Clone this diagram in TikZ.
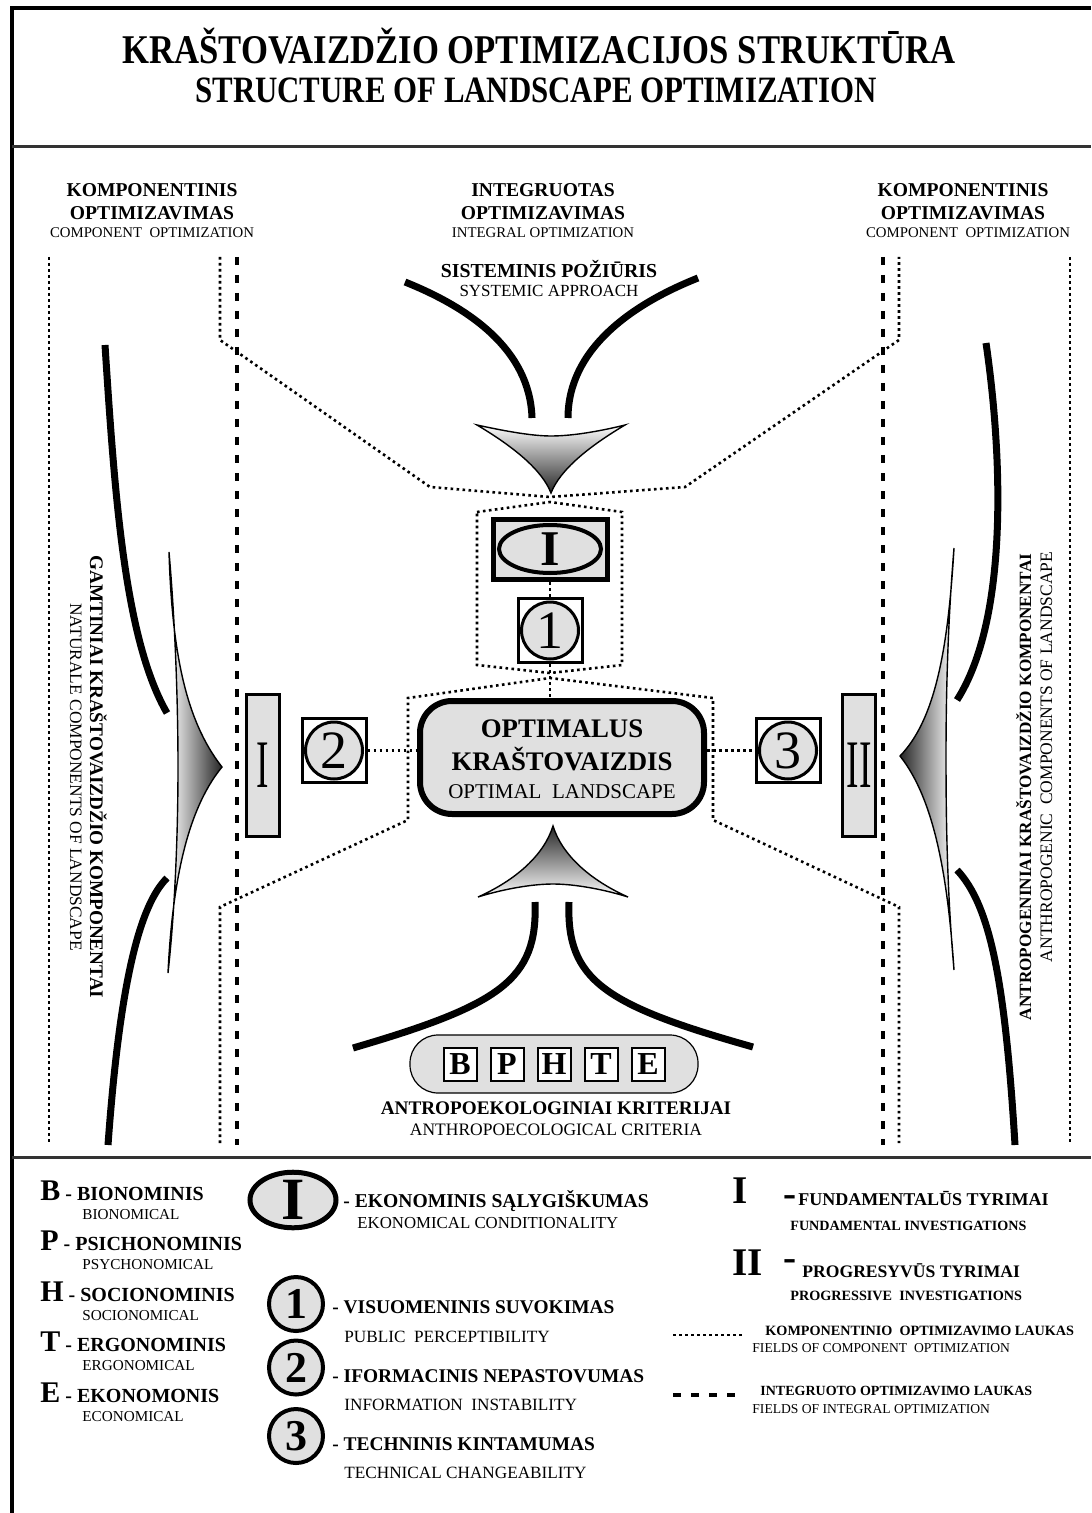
\documentclass[tikz,border=0pt]{standalone}
\usepackage{fontspec}
\setmainfont{Liberation Serif}
\newfontfamily\narrowfont[FakeStretch=0.55]{Liberation Serif}
\usetikzlibrary{shapes.geometric}
\definecolor{boxgray}{gray}{0.88}
\newcommand\fsz[1]{\fontsize{#1}{#1}\selectfont}

\begin{document}
\begin{tikzpicture}[x=0.5pt,y=-0.5pt,
    compfield/.style={line width=1.3pt,dash pattern=on 1.3pt off 1.7pt},
    intfield/.style={line width=1.8pt,dash pattern=on 4pt off 5pt},
    flow/.style={line width=3.5pt},
    funnel/.style={draw=black,line width=0.7pt},
    txt/.style={inner sep=0pt,anchor=base},
    hd/.style={txt,font=\fsz{9.8}\bfseries},
    sub/.style={txt,font=\fsz{7.4}},
    numbox/.style={draw,line width=1.5pt,fill=white,minimum size=32pt,inner sep=0pt},
    numcirc/.style={circle,draw,line width=1.5pt,fill=boxgray,minimum size=28.5pt,inner sep=0pt,font=\fsz{27}},
    research/.style={draw,line width=1.75pt,fill=boxgray,minimum width=16.7pt,minimum height=71.2pt,inner sep=0pt,font=\narrowfont\fsz{34}},
    letbox/.style={draw,line width=1pt,fill=white,minimum size=16.5pt,inner sep=0pt,font=\fsz{16}\bfseries},
    legcirc/.style={circle,draw,line width=2pt,fill=boxgray,minimum size=27pt,inner sep=0pt,font=\fsz{22}\bfseries}]

    \useasboundingbox (0,0) rectangle (1091,1513);

    % 边框
    \draw[line width=2pt] (12,1513) -- (12,8) -- (1091,8);
    \draw[line width=1.5pt,black!80] (12,147) -- (1091,147);
    \draw[line width=1.5pt,black!80] (12,1157) -- (1091,1157);

    % 标题
    \node[txt,font=\fsz{20.4}\bfseries] (title1) at (539,64) {\scalebox{0.85}[1]{KRAŠTOVAIZDŽIO OPTIMIZACIJOS STRUKTŪRA}};
    \node[txt,font=\fsz{18.6}\bfseries] (title2) at (536,103) {\scalebox{0.83}[1]{STRUCTURE OF LANDSCAPE OPTIMIZATION}};

    % 栏目标题
    \node[hd] (kl1) at (152,197) {KOMPONENTINIS};
    \node[hd] (kl2) at (152,220) {OPTIMIZAVIMAS};
    \node[sub] (kl3) at (152,238) {COMPONENT\ \ OPTIMIZATION};
    \node[hd] (in1) at (543,197) {INTEGRUOTAS};
    \node[hd] (in2) at (543,220) {OPTIMIZAVIMAS};
    \node[sub] (in3) at (543,238) {INTEGRAL OPTIMIZATION};
    \node[hd] (kr1) at (963,197) {KOMPONENTINIS};
    \node[hd] (kr2) at (963,220) {OPTIMIZAVIMAS};
    \node[sub] (kr3) at (968,238) {COMPONENT\ \ OPTIMIZATION};

    % 优化区 (点线与虚线)
    \draw[compfield] (49,257) -- (49,1143);
    \draw[compfield] (1070,257) -- (1070,1143);
    \draw[compfield] (220,257) -- (220,340) -- (430,487) -- (550,497) -- (685,487) -- (899,340) -- (899,257);
    \draw[compfield] (477,512) -- (550,502) -- (622,512) -- (622,665) -- (550,673) -- (477,665) -- cycle;
    \draw[compfield] (220,1143) -- (220,907) -- (408,820) -- (408,698) -- (550,678) -- (713,698) -- (713,820) -- (899,907) -- (899,1143);
    \draw[intfield] (237,257) -- (237,1145);
    \draw[intfield] (883,257) -- (883,1145);

    % 粗曲线
    \draw[flow] (405,282) .. controls (470,308) and (530,350) .. (532,418);
    \draw[flow] (698,278) .. controls (630,305) and (568,350) .. (568,418);
    \draw[flow] (535,902) .. controls (538,980) and (500,1005) .. (353,1048);
    \draw[flow] (569,902) .. controls (566,980) and (604,1005) .. (753,1047);
    \draw[flow] (105,345) .. controls (115,500) and (125,640) .. (167,713);
    \draw[flow] (167,878) .. controls (140,905) and (120,980) .. (108,1145);
    \draw[flow] (986,343) .. controls (1003,460) and (1008,620) .. (957,700);
    \draw[flow] (957,870) .. controls (990,905) and (1005,980) .. (1015,1145);

    % 漏斗
    \shadedraw[funnel,top color=white,bottom color=black!85] (477,425) .. controls (500,430) and (530,436) .. (551,436) .. controls (575,436) and (605,430) .. (625,425) .. controls (588,447) and (560,470) .. (551,493) .. controls (542,470) and (514,447) .. (477,425) -- cycle;
    \shadedraw[funnel,top color=black!85,bottom color=white] (478,897) .. controls (500,890) and (530,884) .. (553,884) .. controls (576,884) and (606,890) .. (628,897) .. controls (590,880) and (562,855) .. (553,826) .. controls (544,855) and (516,880) .. (478,897) -- cycle;
    \shadedraw[funnel,left color=white,right color=black!85] (169,552) .. controls (172,650) and (185,720) .. (222,767) .. controls (185,812) and (172,890) .. (168,973) .. controls (176,900) and (178,820) .. (178,767) .. controls (178,700) and (175,620) .. (169,552) -- cycle;
    \shadedraw[funnel,left color=black!85,right color=white] (954,548) .. controls (948,650) and (935,720) .. (900,756) .. controls (935,800) and (948,880) .. (954,970) .. controls (947,890) and (946,820) .. (946,756) .. controls (946,690) and (948,620) .. (954,548) -- cycle;

    \node[txt,font=\fsz{9.9}\bfseries] (sys1) at (549,278) {SISTEMINIS POŽIŪRIS};
    \node[txt,font=\fsz{8.5}] (sys2) at (549,297) {SYSTEMIC APPROACH};

    % 侧面竖排文字
    \node[txt,font=\fsz{9.6}\bfseries,rotate=-90] (gam1) at (90,777) {GAMTINIAI KRAŠTOVAIZDŽIO KOMPONENTAI};
    \node[txt,font=\fsz{8.7},rotate=-90] (gam2) at (70,777) {NATURALE COMPONENTS OF LANDSCAPE};
    \node[txt,font=\fsz{8.6}\bfseries,rotate=90] (ant1) at (1031,787) {ANTROPOGENINIAI KRAŠTOVAIZDŽIO KOMPONENTAI};
    \node[txt,font=\fsz{8.75},rotate=90] (ant2) at (1052,757) {ANTHROPOGENIC\ \ COMPONENTS OF LANDSCAPE};

    % 中心部分
    \node[draw,line width=2.5pt,fill=boxgray,minimum width=57pt,minimum height=30pt] (ebox) at (550,549.5) {};
    \node[ellipse,draw,line width=2pt,minimum width=51pt,minimum height=24pt,inner sep=0pt,font=\fsz{25}\bfseries] (econ) at (550,549) {I};
    \foreach \n/\x/\y in {1/550/630.5,2/334/750.5,3/788/750.5} {
            \node[numbox] (b\n) at (\x,\y) {};
            \node[numcirc] (c\n) at (b\n) {\n};
        }
    \node[research] (fI) at (263,765.5) {I};
    \node[research] (fII) at (859,765.5) {II};

    \node[draw,line width=3pt,rounded corners=16pt,fill=boxgray,minimum width=142pt,minimum height=56.5pt] (opt) at (562,757.5) {};
    \node[txt,font=\fsz{13.4}\bfseries] (opt1) at (562,737) {OPTIMALUS};
    \node[txt,font=\fsz{13.4}\bfseries] (opt2) at (562,770) {KRAŠTOVAIZDIS};
    \node[txt,font=\fsz{10.5}] (opt3) at (562,798) {OPTIMAL\ \ LANDSCAPE};

    \draw[compfield] (ebox.south) -- (b1.north);
    \draw[compfield] (b1.south) -- (b1.south |- opt.north);
    \draw[compfield] (b2.east) -- (b2.east -| opt.west);
    \draw[compfield] (b3.west -| opt.east) -- (b3.west);

    % 人类生态准则
    \node[draw,line width=0.6pt,rounded corners=14pt,fill=boxgray,minimum width=144pt,minimum height=29pt] (crit) at (554,1064) {};
    \foreach \l [count=\i] in {B,P,H,T,E} {
            \node[letbox] (k\l) at ({460+47*(\i-1)},1064) {\l};
        }
    \node[txt,font=\fsz{9.6}\bfseries] (crit1) at (556,1114) {ANTROPOEKOLOGINIAI KRITERIJAI};
    \node[txt,font=\fsz{8.75}] (crit2) at (556,1135) {ANTHROPOECOLOGICAL CRITERIA};

    % 图例 左
    \foreach \l/\w/\s [count=\i] in {B/BIONOMINIS/BIONOMICAL,P/PSICHONOMINIS/PSYCHONOMICAL,H/SOCIONOMINIS/SOCIONOMICAL,T/ERGONOMINIS/ERGONOMICAL,E/EKONOMONIS/ECONOMICAL} {
            \node[txt,anchor=base west,font=\fsz{10}\bfseries] (lw\i) at (40,{1200+50.5*(\i-1)}) {{\fsz{15}\l} - \w};
            \node[txt,anchor=base west,font=\fsz{7.6}] (ls\i) at (82,{1219+50.5*(\i-1)}) {\s};
        }

    % 图例 中
    \node[ellipse,draw,line width=2.5pt,fill=boxgray,minimum width=43pt,minimum height=24pt,inner sep=0pt,font=\fsz{30}\bfseries] (lgI) at (293,1200) {I};
    \node[txt,anchor=base west,font=\fsz{9.8}\bfseries] (lgIa) at (343,1207) {- EKONOMINIS SĄLYGIŠKUMAS};
    \node[txt,anchor=base west,font=\fsz{8.4}] (lgIb) at (357,1228) {EKONOMICAL CONDITIONALITY};
    \foreach \n/\cy/\ty/\sy/\a/\b in {1/1304/1313/1342/VISUOMENINIS SUVOKIMAS/PUBLIC\ \ PERCEPTIBILITY,
            2/1367.5/1382/1410/IFORMACINIS NEPASTOVUMAS/INFORMATION\ \ INSTABILITY,
            3/1436/1450/1478/TECHNINIS KINTAMUMAS/TECHNICAL CHANGEABILITY} {
            \node[legcirc] (lc\n) at (296,\cy) {\n};
            \node[txt,anchor=base west,font=\fsz{9.7}\bfseries] (la\n) at (332,\ty) {- \a};
            \node[txt,anchor=base west,font=\fsz{8.6}] (lb\n) at (344,\sy) {\b};
        }

    % 图例 右
    \node[txt,anchor=base west,font=\fsz{19.6}\bfseries] (rI) at (732,1203) {I};
    \node[txt,font=\fsz{19.6}\bfseries] (rId) at (790,1206) {-};
    \node[txt,anchor=base west,font=\fsz{9}\bfseries] (rIa) at (798,1205) {FUNDAMENTALŪS TYRIMAI};
    \node[txt,anchor=base west,font=\fsz{7.06}\bfseries] (rIb) at (790,1230) {FUNDAMENTAL INVESTIGATIONS};
    \node[txt,anchor=base west,font=\fsz{19.6}\bfseries] (rII) at (732,1275) {II};
    \node[txt,font=\fsz{19.6}\bfseries] (rIId) at (790,1270) {-};
    \node[txt,anchor=base west,font=\fsz{8.8}\bfseries] (rIIa) at (802,1277) {PROGRESYVŪS TYRIMAI};
    \node[txt,anchor=base west,font=\fsz{7.1}\bfseries] (rIIb) at (790,1300) {PROGRESSIVE\ \ INVESTIGATIONS};

    \coordinate (cf1) at (673,1335);
    \coordinate (cf2) at (742,1335);
    \draw[compfield] (cf1) -- (cf2);
    \node[txt,anchor=base west,font=\fsz{7.1}\bfseries] (cfa) at (765,1335) {KOMPONENTINIO\ \ OPTIMIZAVIMO LAUKAS};
    \node[txt,anchor=base west,font=\fsz{6.8}] (cfb) at (752,1352) {FIELDS OF COMPONENT\ \ OPTIMIZATION};
    \coordinate (if1) at (673,1395);
    \coordinate (if2) at (742,1395);
    \draw[intfield] (if1) -- (if2);
    \node[txt,anchor=base west,font=\fsz{7}\bfseries] (ifa) at (760,1395) {INTEGRUOTO OPTIMIZAVIMO LAUKAS};
    \node[txt,anchor=base west,font=\fsz{6.8}] (ifb) at (752,1413) {FIELDS OF INTEGRAL OPTIMIZATION};

\end{tikzpicture}
\end{document}
